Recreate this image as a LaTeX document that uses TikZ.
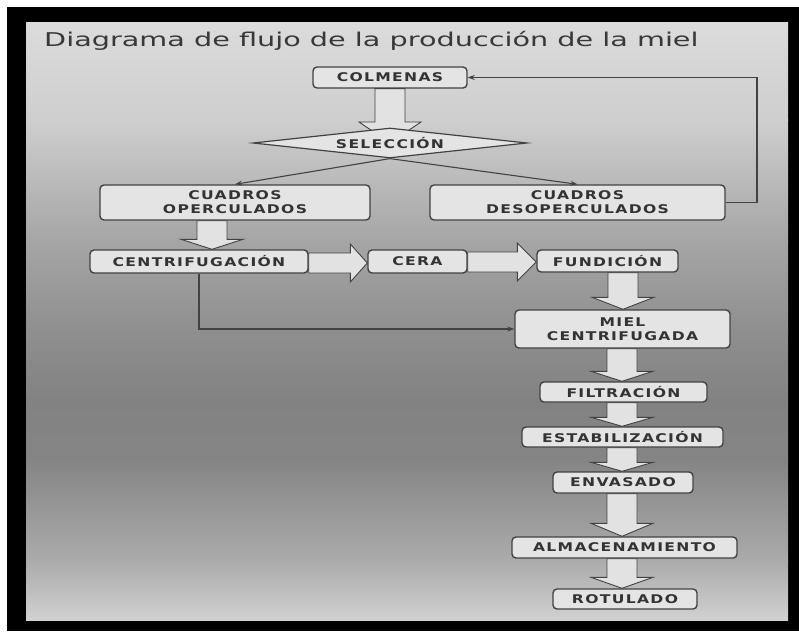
\documentclass[tikz,border=0pt]{standalone}
\usepackage{fontspec}
\usetikzlibrary{shapes.geometric,arrows.meta,calc}
\newfontfamily\titlefont[FakeStretch=1.51]{DejaVu Sans}
\newfontfamily\boxfont[FakeStretch=1.3,LetterSpace=11]{DejaVu Sans}
\definecolor{edge}{HTML}{424242}
\definecolor{boxfill}{HTML}{E4E4E4}
\definecolor{txt}{HTML}{333333}
\definecolor{arrowfill}{HTML}{E2E2E2}
\definecolor{titlegray}{HTML}{383838}
\pgfdeclarelayer{back}
\pgfdeclarelayer{bg}
\pgfsetlayers{back,bg,main}
\tikzset{
  box/.style={draw=edge, line width=1.4pt, rounded corners=4pt, fill=boxfill, text=txt,
    font=\boxfont\bfseries\fontsize{12}{14}\selectfont, align=center, inner sep=0pt},
  decision/.style={diamond, draw=edge, line width=1.2pt, fill=boxfill, text=txt,
    font=\boxfont\bfseries\fontsize{12}{14}\selectfont, inner sep=0pt, shape aspect=9},
  flowarrow/.style={draw=edge, line width=0.9pt, fill=arrowfill, line join=miter},
  conn/.style={draw=edge, line width=1.1pt, -{Stealth[length=7pt,width=5pt]}}
}
% vertical hollow arrow: from point, to point, x centre (px), head length (px)
\newcommand\dflow[4]{%
  \path[flowarrow] let \p1=(#1), \p2=(#2) in
   ({(#3-15)*1pt},\y1) -- ({(#3-15)*1pt},{\y2+#4pt}) -- ({(#3-31)*1pt},{\y2+#4pt})
   -- ({#3*1pt},\y2) -- ({(#3+31)*1pt},{\y2+#4pt}) -- ({(#3+15)*1pt},{\y2+#4pt})
   -- ({(#3+15)*1pt},\y1) -- cycle;}
% horizontal hollow arrow: from point, to point, y centre (px), head length (px)
\newcommand\rflow[4]{%
  \path[flowarrow] let \p1=(#1), \p2=(#2) in
   (\x1,{(-#3+10)*1pt}) -- ({\x2-#4pt},{(-#3+10)*1pt}) -- ({\x2-#4pt},{(-#3+19)*1pt})
   -- (\x2,{-#3pt}) -- ({\x2-#4pt},{(-#3-19)*1pt}) -- ({\x2-#4pt},{(-#3-10)*1pt})
   -- (\x1,{(-#3-10)*1pt}) -- cycle;}
\begin{document}
\begin{tikzpicture}[x=1pt,y=-1pt]
\useasboundingbox (0,0) rectangle (799,631);
\begin{pgfonlayer}{back}
  \fill[white] (0,0) rectangle (799,631);
  \fill[black] (7,7) rectangle (799,631);
  \foreach \ya/\yb/\ca/\cb in {23/120/86/81, 120/240/81/65, 240/330/65/56, 330/400/56/51,
      400/460/51/52, 460/560/52/67, 560/620/67/82}
    \shade[top color=white!\ca!black, bottom color=white!\cb!black]
      (26,\ya) rectangle (788,\yb+0.5);
\end{pgfonlayer}

\node[anchor=base west, inner sep=0pt, text=titlegray,
  font=\titlefont\fontsize{19}{22}\selectfont] (title) at (44,47)
  {Diagrama de flujo de la producción de la miel};

\node[box, minimum width=154pt, minimum height=21pt] (colm) at (390,77.5) {COLMENAS};
\node[decision, minimum width=274pt, minimum height=30pt] (sel) at (390,143) {SELECCIÓN};
\node[box, minimum width=270pt, minimum height=35pt] (cop) at (235,202.5) {CUADROS\\OPERCULADOS};
\node[box, minimum width=295pt, minimum height=35pt] (cdes) at (577.5,202.5) {CUADROS\\DESOPERCULADOS};
\node[box, minimum width=218pt, minimum height=23pt] (cent) at (199,261.5) {CENTRIFUGACIÓN};
\node[box, minimum width=99pt, minimum height=23pt] (cera) at (417.5,261.5) {CERA};
\node[box, minimum width=141pt, minimum height=22pt] (fund) at (607.5,261) {FUNDICIÓN};
\node[box, minimum width=215pt, minimum height=38pt] (miel) at (622.5,329) {MIEL\\CENTRIFUGADA};
\node[box, minimum width=167pt, minimum height=20pt] (filt) at (623.5,392) {FILTRACIÓN};
\node[box, minimum width=201pt, minimum height=20pt] (esta) at (622.5,437) {ESTABILIZACIÓN};
\node[box, minimum width=140pt, minimum height=21pt] (env) at (623,482.5) {ENVASADO};
\node[box, minimum width=225pt, minimum height=21pt] (alm) at (624.5,547.5) {ALMACENAMIENTO};
\node[box, minimum width=144pt, minimum height=20pt] (rot) at (625,599) {ROTULADO};

\coordinate (fb) at (757,140);

\begin{pgfonlayer}{bg}
  \dflow{colm.south}{sel.center}{390}{21}
  \dflow{cop.south}{cent.north}{212}{10}
  \dflow{fund.south}{miel.north}{623}{12}
  \dflow{miel.south}{filt.north}{622}{10}
  \dflow{filt.south}{esta.north}{622}{9}
  \dflow{esta.south}{env.north}{622}{9}
  \dflow{env.south}{alm.north}{622}{13}
  \dflow{alm.south}{rot.north}{622}{11}
  \rflow{cent.east}{cera.west}{263}{17}
  \rflow{cera.east}{fund.west}{262}{19}
\end{pgfonlayer}

\draw[conn] (sel.south) -- (cop.north);
\draw[conn] (sel.south) -- (cdes.north);
\draw[conn] (cdes.east) -- (cdes.east -| fb) |- (colm.east);
\draw[conn] (cent.south) |- (miel.west);
\end{tikzpicture}
\end{document}
